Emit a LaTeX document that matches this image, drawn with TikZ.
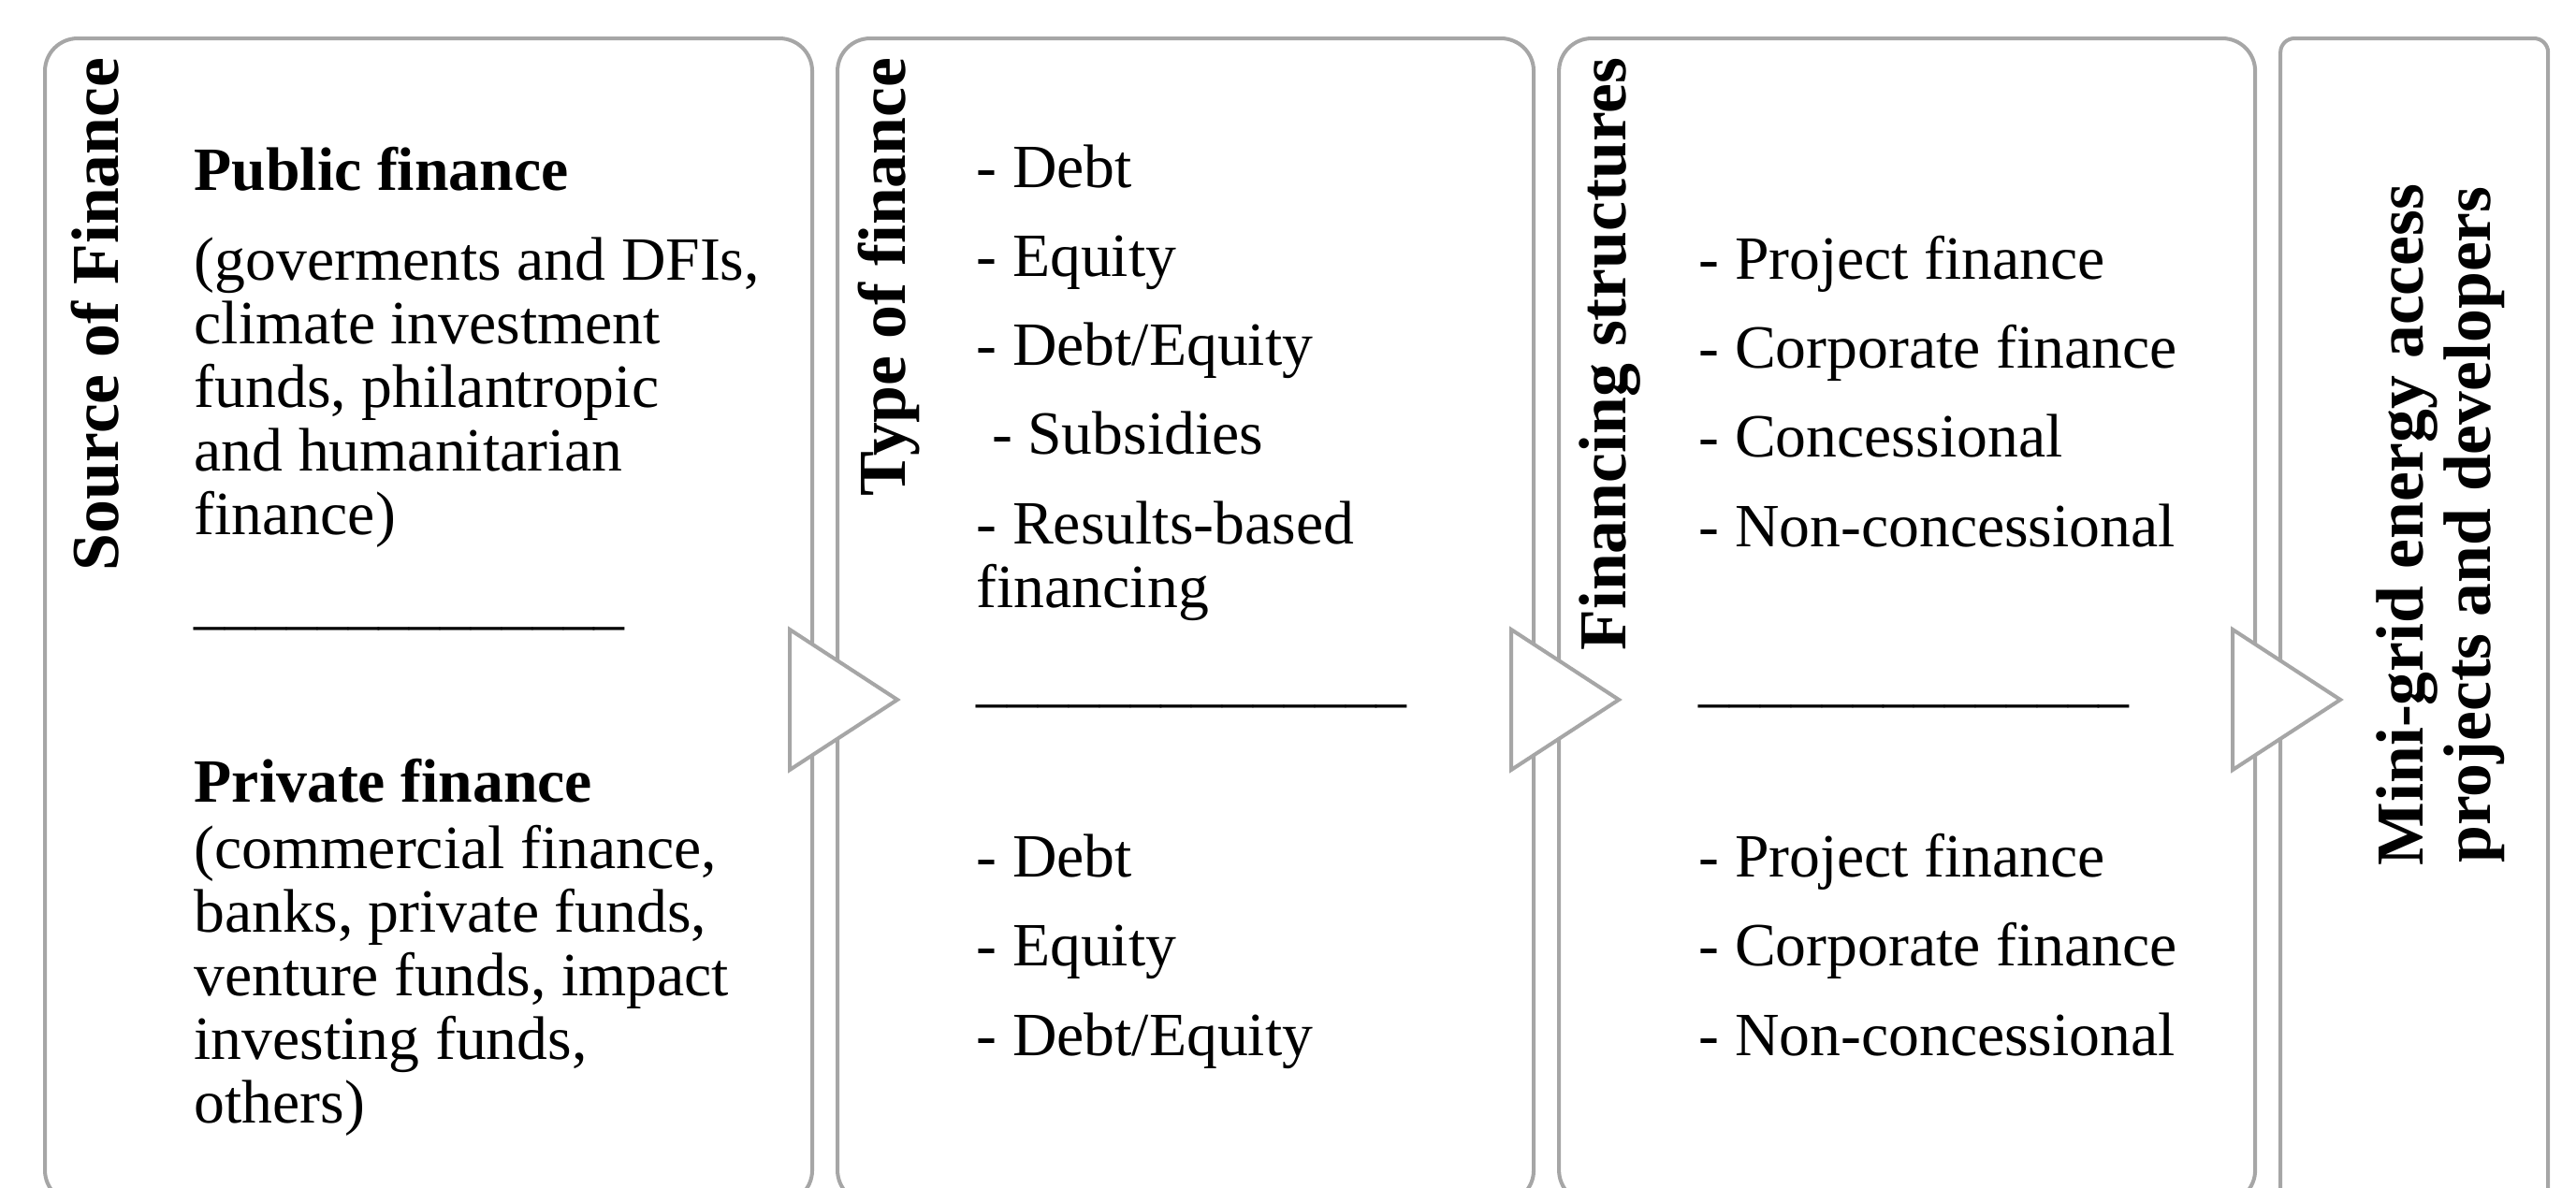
\documentclass[tikz,border=0pt]{standalone}
\usepackage{fontspec}
\setmainfont{Liberation Serif}
\usetikzlibrary{positioning, calc}
\definecolor{framegray}{HTML}{A6A6A6}

\begin{document}
\begin{tikzpicture}
[
	node distance = 0.23cm,
	panel/.style={draw=framegray, line width=1.15pt, rectangle, rounded corners=0.35cm, inner sep=0pt, minimum height=12.45cm},
	header/.style={rotate=90, anchor=east, inner sep=0pt, font=\fontsize{20.4}{23}\selectfont\bfseries},
	body/.style={anchor=base west, inner sep=0pt, align=left, font=\fontsize{18.7}{19.3}\selectfont},
	pointer/.style={draw=framegray, fill=white, line width=1.15pt, line join=miter}
  ]
	\useasboundingbox (0,0) rectangle (27.53,-12.70);

	% the four panels
	\node[panel, anchor=north west, minimum width=8.20cm] (Src) at (0.46,-0.39) {};
	\node[panel, right=of Src, minimum width=7.44cm] (Type) {};
	\node[panel, right=of Type, minimum width=7.44cm] (Struct) {};
	\node[panel, right=of Struct, minimum width=2.86cm, rounded corners=0.15cm] (Grid) {};

	% arrows between panels
	\foreach \b in {Src, Type, Struct}
		\draw[pointer] ($(\b.north east)+(-0.26,-6.34)$) -- ++(0,-1.5) -- ++(1.15,0.75) -- cycle;

	% source of finance
	\node[header] (SrcH) at (1.02,-0.61) {Source of Finance};
	\node[body] (Pub) at (2.07,-5.71) {\textbf{Public finance}\\[8pt]
		(goverments and DFIs,\\ climate investment\\ funds, philantropic\\ and humanitarian\\ finance)};
	\node[body] (SrcSep) at (2.07,-6.65) {\_\_\_\_\_\_\_\_\_\_\_\_\_\_};
	\node[body] (Priv) at (2.07,-12.00) {\textbf{Private finance}\\[1pt]
		(commercial finance,\\ banks, private funds,\\ venture funds, impact\\ investing funds,\\ others)};

	% type of finance
	\node[header] (TypeH) at (9.50,-0.61) {Type of finance};
	\node[body] (TypePub) at (10.43,-6.49) {- Debt\\[7.8pt] - Equity\\[7.8pt] - Debt/Equity\\[7.8pt]
		\ - Subsidies\\[7.8pt] - Results-based\\ financing};
	\node[body] (TypeSep) at (10.43,-7.48) {\_\_\_\_\_\_\_\_\_\_\_\_\_\_};
	\node[body] (TypePriv) at (10.43,-11.28) {- Debt\\[7.8pt] - Equity\\[7.8pt] - Debt/Equity};

	% financing structures
	\node[header] (StructH) at (17.21,-0.61) {Financing structures};
	\node[body] (StructPub) at (18.15,-5.84) {- Project finance\\[7.8pt] - Corporate finance\\[7.8pt]
		- Concessional\\[7.8pt] - Non-concessional};
	\node[body] (StructSep) at (18.15,-7.48) {\_\_\_\_\_\_\_\_\_\_\_\_\_\_};
	\node[body] (StructPriv) at (18.15,-11.28) {- Project finance\\[7.8pt] - Corporate finance\\[7.8pt]
		- Non-concessional};

	% target
	\node[rotate=90, align=center, inner sep=0pt, font=\fontsize{20.4}{20.4}\selectfont\bfseries] (GridT)
		at (26.08,-5.61) {Mini-grid energy access\\ projects and developers};
\end{tikzpicture}
\end{document}
